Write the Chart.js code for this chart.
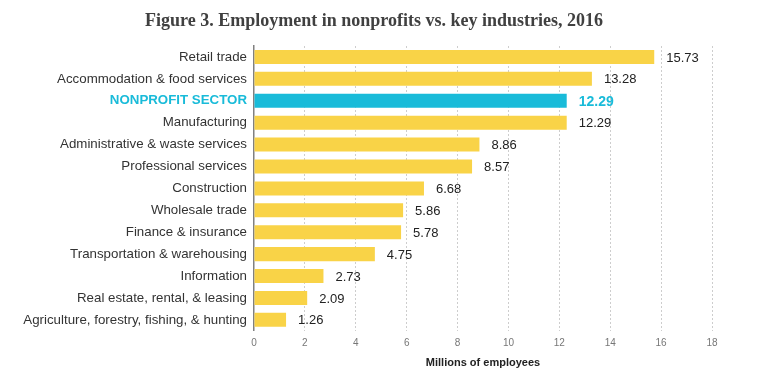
<!DOCTYPE html>
<html>
<head>
<meta charset="utf-8">
<script src="https://cdn.jsdelivr.net/npm/chart.js@4"></script>
<style>
  html, body { margin: 0; padding: 0; background: #fff; }
  #wrap { position: relative; width: 768px; height: 375px; }
  #title {
    position: absolute; left: 0; top: 10px; width: 748px;
    text-align: center; line-height: 24px;
    font: bold 18px "Liberation Serif", serif; color: #404040;
  }
</style>
</head>
<body>
<div id="wrap">
  <div id="title">Figure 3. Employment in nonprofits vs. key industries, 2016</div>
  <canvas id="plots"></canvas>
</div>
<script>
// industries, largest first
var industries = [
  "Retail trade",
  "Accommodation & food services",
  "NONPROFIT SECTOR",
  "Manufacturing",
  "Administrative & waste services",
  "Professional services",
  "Construction",
  "Wholesale trade",
  "Finance & insurance",
  "Transportation & warehousing",
  "Information",
  "Real estate, rental, & leasing",
  "Agriculture, forestry, fishing, & hunting"
];
// millions of employees
var employees = [15.73, 13.28, 12.29, 12.29, 8.86, 8.57, 6.68, 5.86, 5.78, 4.75, 2.73, 2.09, 1.26];
var xTicks = [0, 2, 4, 6, 8, 10, 12, 14, 16, 18];

var YELLOW = "#f9d347";
var CYAN = "#19bbd9";
var NONPROFIT = 2;
var SANS = "'Liberation Sans', Arial, sans-serif";

// numbers at the end of each bar
var valueLabels = {
  id: "valueLabels",
  afterDatasetsDraw: function(chart) {
    var ctx = chart.ctx;
    var meta = chart.getDatasetMeta(0);
    ctx.save();
    ctx.textAlign = "left";
    ctx.textBaseline = "middle";
    meta.data.forEach(function(bar, i) {
      if (i === NONPROFIT) {
        ctx.font = "bold 14px " + SANS;
        ctx.fillStyle = CYAN;
      } else {
        ctx.font = "13px " + SANS;
        ctx.fillStyle = "#222";
      }
      ctx.fillText(employees[i].toFixed(2), bar.x + 12, bar.y + 1);
    });
    ctx.restore();
  }
};

var ctx = document.getElementById("plots").getContext("2d");
var myChart = new Chart(ctx, {
  type: "bar",
  data: {
    labels: industries,
    datasets: [{
      data: employees,
      backgroundColor: employees.map(function(v, i) { return i === NONPROFIT ? CYAN : YELLOW; }),
      barPercentage: 0.64,
      categoryPercentage: 1
    }]
  },
  plugins: [valueLabels],
  options: {
    indexAxis: "y",
    responsive: true,
    maintainAspectRatio: false,
    animation: false,
    layout: { padding: { left: 0, right: 56, top: 46, bottom: 5 } },
    plugins: {
      legend: { display: false },
      tooltip: { enabled: false }
    },
    scales: {
      x: {
        min: 0,
        max: 18,
        afterBuildTicks: function(scale) {
          scale.ticks = xTicks.map(function(v) { return { value: v }; });
        },
        // in v4 border.dash is what dots the grid lines
        border: { display: false, dash: [2, 2] },
        grid: {
          color: function(c) { return c.tick && c.tick.value === 0 ? "rgba(0,0,0,0)" : "#cdcdcd"; },
          drawTicks: false,
          lineWidth: 1
        },
        ticks: {
          color: "#777",
          padding: 6,
          font: { family: SANS, size: 10 }
        },
        title: {
          display: true,
          text: "Millions of employees",
          color: "#222",
          padding: { top: 2, bottom: 0 },
          font: { family: SANS, size: 11, weight: "bold" }
        }
      },
      y: {
        afterFit: function(scale) { scale.width = 254; },
        border: { display: true, color: "#808080", width: 1.5 },
        grid: { display: false, drawTicks: false },
        ticks: {
          padding: 7,
          color: function(c) { return c.index === NONPROFIT ? CYAN : "#333"; },
          font: function(c) {
            return c.index === NONPROFIT
              ? { family: SANS, size: 13.3, weight: "bold" }
              : { family: SANS, size: 13.3 };
          }
        }
      }
    }
  }
});
</script>
</body>
</html>
